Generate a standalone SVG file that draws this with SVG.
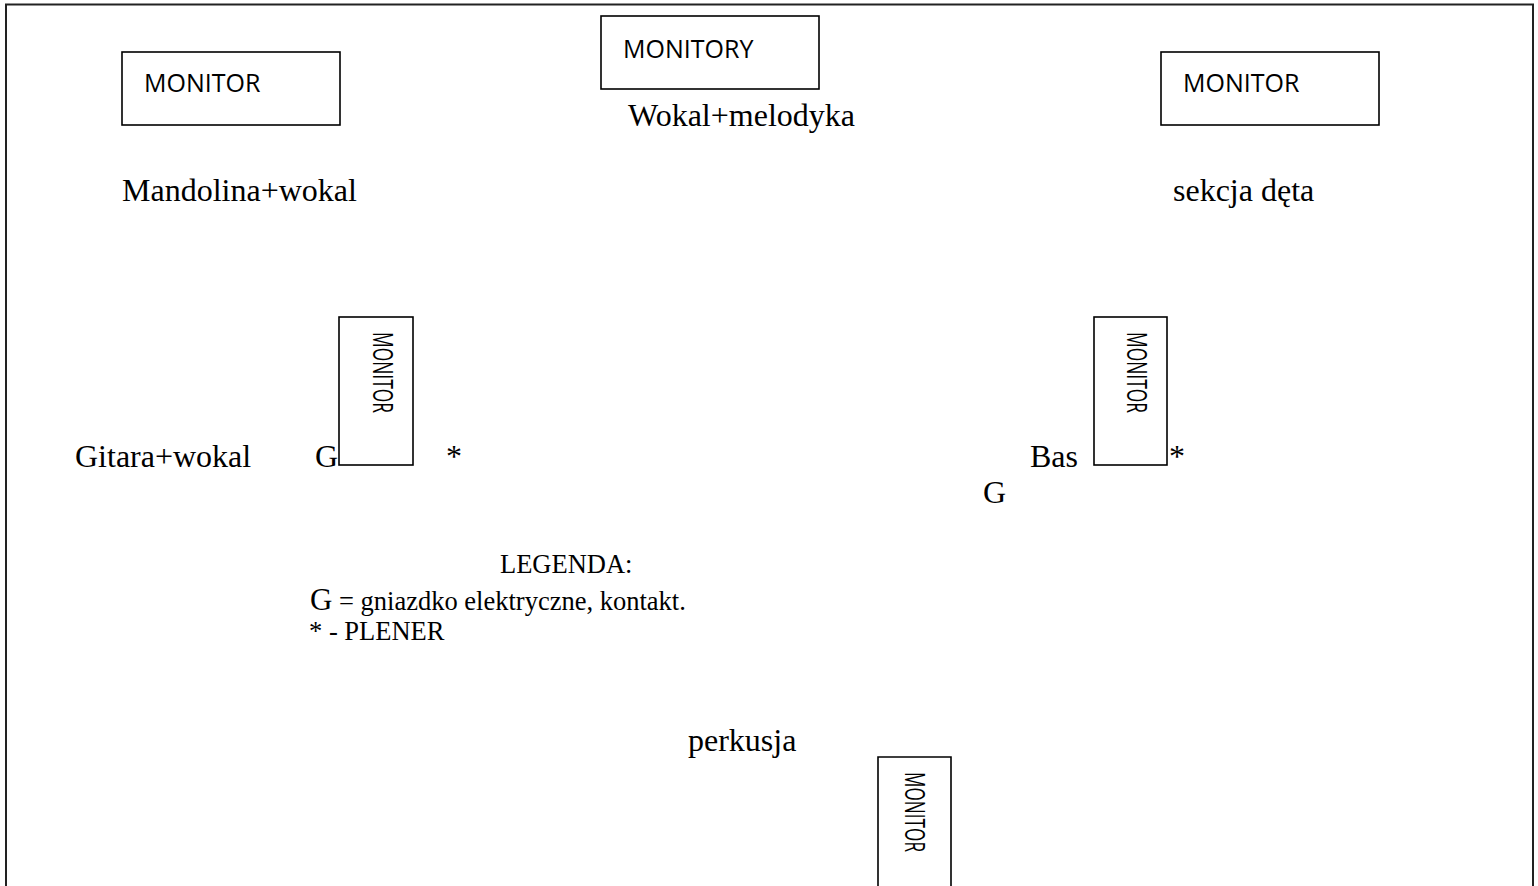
<svg xmlns="http://www.w3.org/2000/svg" width="1538" height="886" viewBox="0 0 1538 886">
<style>
.box{fill:#fff;stroke:#000;stroke-width:1.6}
.mon{font-family:"Open Sans","Liberation Sans",sans-serif;font-size:25px;fill:#000}
.vmon{font-family:"Open Sans","Liberation Sans",sans-serif;font-size:28px;fill:#000}
.lbl{font-family:"Liberation Serif","Times New Roman",serif;font-size:32px;fill:#000}
.leg{font-family:"Liberation Serif","Times New Roman",serif;font-size:26.5px;fill:#000}
</style>
<rect width="1538" height="886" fill="#fff"/>
<path d="M6,886 V4.5 H1533 V886" fill="none" stroke="#222" stroke-width="2"/>
<g id="connectors"/>
<g id="monitor-left"><rect class="box" x="122" y="52" width="218" height="73"/><text class="mon" x="144" y="92">MONITOR</text></g>
<g id="monitory-center"><rect class="box" x="601" y="16" width="218" height="73"/><text class="mon" x="623" y="58">MONITORY</text></g>
<g id="monitor-right"><rect class="box" x="1161" y="52" width="218" height="73"/><text class="mon" x="1183" y="92">MONITOR</text></g>
<g id="monitor-vert-left"><rect class="box" x="339" y="317" width="74" height="148"/><text class="vmon" transform="translate(373,332) rotate(90)" textLength="81" lengthAdjust="spacingAndGlyphs">MONITOR</text></g>
<g id="monitor-vert-right"><rect class="box" x="1094" y="317" width="73" height="148"/><text class="vmon" transform="translate(1127,332) rotate(90)" textLength="81" lengthAdjust="spacingAndGlyphs">MONITOR</text></g>
<g id="monitor-bottom"><path class="box" d="M878,886 V757 H951 V886"/><text class="vmon" transform="translate(905,772) rotate(90)" textLength="80" lengthAdjust="spacingAndGlyphs">MONITOR</text></g>
<g id="wokal-melodyka"><text class="lbl" x="628" y="126">Wokal+melodyka</text></g>
<g id="mandolina"><text class="lbl" x="122" y="201">Mandolina+wokal</text></g>
<g id="sekcja"><text class="lbl" x="1173" y="201">sekcja dęta</text></g>
<g id="gitara"><text class="lbl" x="75" y="467">Gitara+wokal</text><text class="lbl" x="315" y="467">G</text><text class="lbl" x="446" y="467">*</text></g>
<g id="bas"><text class="lbl" x="1030" y="467">Bas</text><text class="lbl" x="1169" y="467">*</text><text class="lbl" x="983" y="503">G</text></g>
<g id="legenda">
<text class="leg" x="500" y="573">LEGENDA:</text>
<text class="leg" x="310" y="610"><tspan font-size="31px">G</tspan> = gniazdko elektryczne, kontakt.</text>
<text class="leg" x="309" y="640">* - PLENER</text>
</g>
<g id="perkusja"><text class="lbl" x="688" y="751">perkusja</text></g>
</svg>
